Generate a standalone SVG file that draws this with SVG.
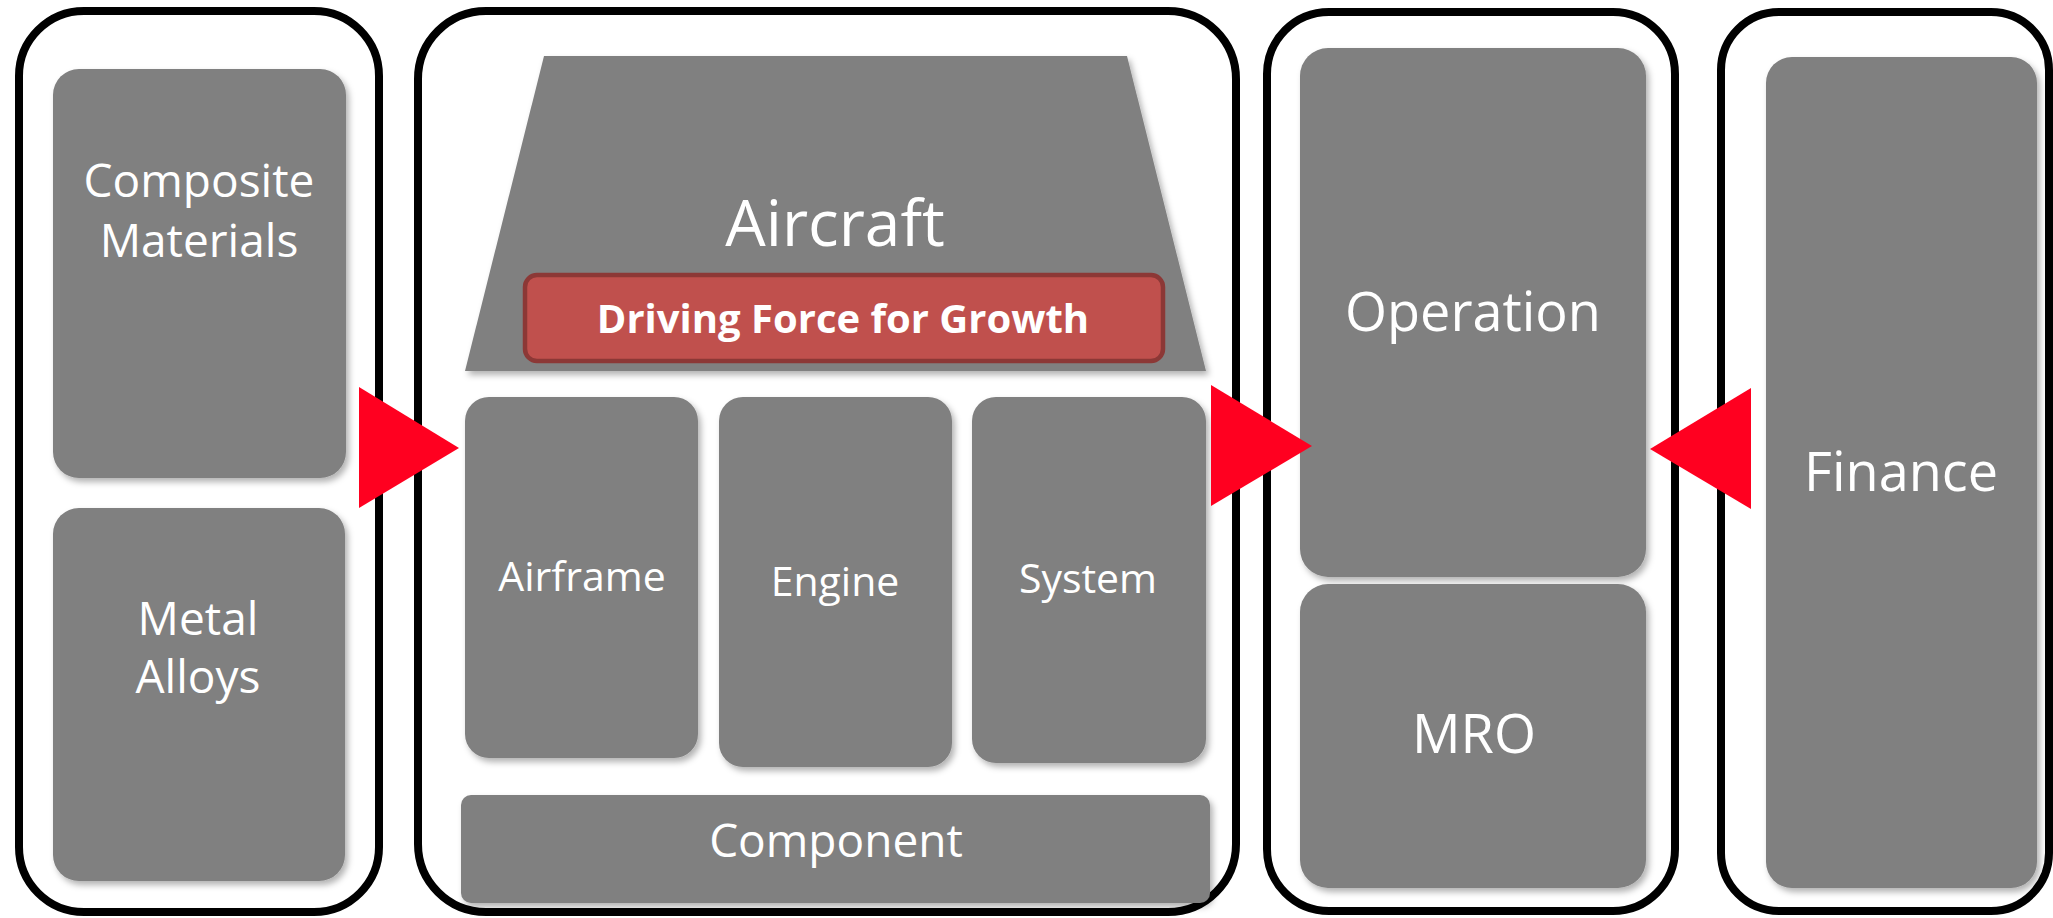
<svg xmlns="http://www.w3.org/2000/svg" width="2053" height="918" viewBox="0 0 2053 918">
  <defs>
    <filter id="sh" x="-10%" y="-10%" width="125%" height="125%">
      <feDropShadow dx="3" dy="4" stdDeviation="3" flood-color="#000" flood-opacity="0.3"/>
    </filter>
    <style>
      .panel { fill: #ffffff; stroke: #000000; stroke-width: 8; }
      .box { fill: #808080; filter: url(#sh); }
      .lbl { fill: #ffffff; font-family: "Open Sans", "Liberation Sans", sans-serif; text-anchor: middle; }
      .arrow { fill: #FF0020; }
    </style>
  </defs>
  <rect width="2053" height="918" fill="#ffffff"/>

  <g id="panel-materials">
    <rect class="panel" x="19" y="11" width="360" height="901" rx="65" ry="65"/>
    <g id="composite-materials">
      <rect class="box" x="53" y="69" width="293" height="409" rx="26"/>
      <text class="lbl" x="199" y="197" font-size="46">Composite</text>
      <text class="lbl" x="199" y="257" font-size="46">Materials</text>
    </g>
    <g id="metal-alloys">
      <rect class="box" x="53" y="508" width="292" height="373" rx="26"/>
      <text class="lbl" x="198" y="635" font-size="46">Metal</text>
      <text class="lbl" x="198" y="693" font-size="46">Alloys</text>
    </g>
  </g>

  <g id="panel-aircraft">
    <rect class="panel" x="418" y="11" width="818" height="901" rx="68" ry="68"/>
    <g id="aircraft">
      <polygon class="box" points="544,56 1127,56 1206,371 465,371"/>
      <text class="lbl" x="835" y="246" font-size="64">Aircraft</text>
    </g>
    <g id="driving-force">
      <rect x="525" y="275" width="638" height="86" rx="12" fill="#C0504D" stroke="#8C3836" stroke-width="4.5"/>
      <text class="lbl" x="843" y="333" font-size="40" font-weight="bold">Driving Force for Growth</text>
    </g>
    <g id="airframe">
      <rect class="box" x="465" y="397" width="233" height="361" rx="24"/>
      <text class="lbl" x="582" y="591" font-size="41">Airframe</text>
    </g>
    <g id="engine">
      <rect class="box" x="719" y="397" width="233" height="370" rx="24"/>
      <text class="lbl" x="835" y="596" font-size="41">Engine</text>
    </g>
    <g id="system">
      <rect class="box" x="972" y="397" width="234" height="366" rx="24"/>
      <text class="lbl" x="1088" y="593" font-size="41">System</text>
    </g>
    <g id="component">
      <rect class="box" x="461" y="795" width="749" height="108" rx="10"/>
      <text class="lbl" x="836" y="857" font-size="46">Component</text>
    </g>
  </g>

  <g id="panel-operation">
    <rect class="panel" x="1267" y="12" width="408" height="899" rx="62" ry="62"/>
    <g id="operation">
      <rect class="box" x="1300" y="48" width="346" height="529" rx="28"/>
      <text class="lbl" x="1473" y="331" font-size="54">Operation</text>
    </g>
    <g id="mro">
      <rect class="box" x="1300" y="584" width="346" height="304" rx="28"/>
      <text class="lbl" x="1474" y="753" font-size="54">MRO</text>
    </g>
  </g>

  <g id="panel-finance">
    <rect class="panel" x="1721" y="12" width="328" height="899" rx="58" ry="58"/>
    <g id="finance">
      <rect class="box" x="1766" y="57" width="271" height="831" rx="26"/>
      <text class="lbl" x="1901" y="491" font-size="54">Finance</text>
    </g>
  </g>

  <g id="connectors">
    <polygon class="arrow" points="359,387 459,448 359,508"/>
    <polygon class="arrow" points="1211,385 1312,446 1211,506"/>
    <polygon class="arrow" points="1751,388 1650,449 1751,509"/>
  </g>
</svg>
